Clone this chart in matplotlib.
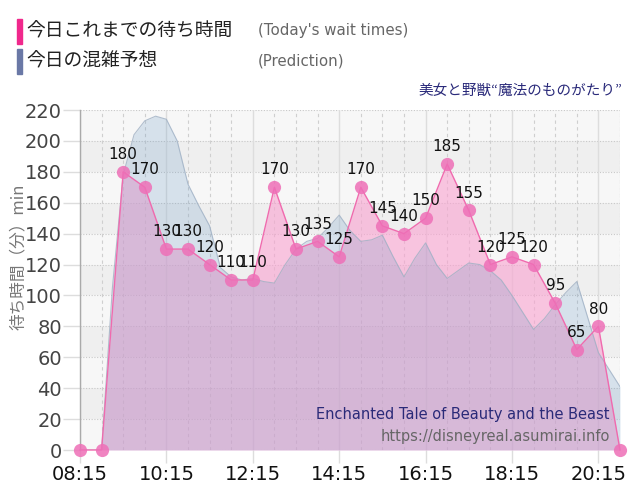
import matplotlib
matplotlib.use("Agg")
import matplotlib.pyplot as plt
import numpy as np

# ---- data ----
start_label = "08:15"
actual_step_min = 30
actual_values = [0, 0, 180, 170, 130, 130, 120, 110, 110, 170, 130, 135, 125,
                 170, 145, 140, 150, 185, 155, 120, 125, 120, 95, 65, 80, 0]
pred_step_min = 15
pred_values = [0, 0, 0, 105, 178, 204, 213, 216, 214, 200, 172, 158, 145, 118,
               112, 110, 111, 109, 108, 120, 130, 135, 137, 144, 152, 142, 135,
               136, 139, 125, 112, 124, 134, 120, 111, 116, 121, 120, 116, 110,
               100, 89, 78, 85, 94, 102, 109, 86, 63, 52, 41]
tick_labels = ["08:15", "10:15", "12:15", "14:15", "16:15", "18:15", "20:15"]
y_ticks = [0, 20, 40, 60, 80, 100, 120, 140, 160, 180, 200, 220]

legend_jp = ["今日これまでの待ち時間", "今日の混雑予想"]
legend_en = ["(Today's wait times)", "(Prediction)"]
title_jp = "美女と野獣“魔法のものがたり”"
title_en = "Enchanted Tale of Beauty and the Beast"
site = "https://disneyreal.asumirai.info"
ylabel = "待ち時間（分）min"

JP = ['Noto Sans CJK JP', 'DejaVu Sans']

xa = np.arange(len(actual_values)) * actual_step_min
xp = np.arange(len(pred_values)) * pred_step_min
ya = np.array(actual_values, dtype=float)
yp = np.array(pred_values, dtype=float)

fig = plt.figure(figsize=(6.4, 5.0), dpi=100)
ax = fig.add_axes([80/640, 50/500, 540/640, 340/500])
ax.set_xlim(xa[0], xa[-1])
ax.set_ylim(0, 220)

# background bands
for i in range(11):
    c = "#f7f7f7" if i % 2 == 0 else "#efefef"
    ax.axhspan(i*20, i*20+20, color=c, zorder=0, lw=0)

# grid
for y in y_ticks:
    ax.axhline(y, color="#c8c8c8", lw=0.8, ls=(0, (1, 1.5)), zorder=1)
for x in np.arange(0, xa[-1]+1, 30):
    if x % 120 == 0:
        ax.axvline(x, color="#dddddd", lw=1.0, zorder=1)
    else:
        ax.axvline(x, color="#cfcfcf", lw=0.8, ls=(0, (3, 3)), zorder=1)
ax.axvline(xa[-1], color="#cfcfcf", lw=0.8, ls=(0, (1, 1.5)), zorder=1)

# actual fill
ax.fill_between(xa, 0, ya, color="#faa2d0", alpha=0.6, lw=0, zorder=2)
# prediction fill on top
ax.fill_between(xp, 0, yp, color="#6496c3", alpha=0.22, lw=0, zorder=3)
ax.plot(xp, yp, color="#9fb0c4", lw=0.8, alpha=0.8, zorder=3)

# actual line and markers
ax.plot(xa, ya, color="#f06aae", lw=1.0, zorder=4, clip_on=False)
ax.plot(xa, ya, ls="none", marker="o", ms=9.5, mfc="#ee6fb7", mec="none",
        alpha=0.85, zorder=5, clip_on=False)

for x, y in zip(xa, ya):
    if y > 0:
        ax.annotate(f"{int(y)}", (x, y), xytext=(0, 12.5), textcoords="offset points",
                    ha="center", va="center", fontsize=11, color="#111111",
                    family="DejaVu Sans", zorder=6)

# axes styling
for s in ["top", "right", "bottom"]:
    ax.spines[s].set_visible(False)
ax.spines["left"].set_color("#aaaaaa")
ax.spines["left"].set_linewidth(1.0)
ax.set_yticks(y_ticks)
ax.set_yticklabels([str(v) for v in y_ticks])
ax.set_xticks(np.arange(0, 721, 120))
ax.set_xticklabels(tick_labels)
ax.tick_params(axis="y", length=12, width=1, color="#dddddd", pad=1,
               labelsize=14, labelcolor="#444444")
ax.tick_params(axis="x", length=9, width=1, color="#dddddd", pad=2,
               labelsize=14, labelcolor="#111111")

fig.text(18/640, 1 - 257/500, ylabel, rotation=90, ha="center", va="center",
         fontsize=12, color="#777777", family=JP)

# legend
fig.patches.append(matplotlib.patches.Rectangle((17/640, 1-44/500), 5/640, 25/500,
                   transform=fig.transFigure, color="#f0288c", figure=fig))
fig.patches.append(matplotlib.patches.Rectangle((17/640, 1-74/500), 5/640, 25/500,
                   transform=fig.transFigure, color="#6a78a6", figure=fig))
fig.text(26/640, 1-31/500, legend_jp[0], ha="left", va="center", fontsize=13.5,
         color="#222222", family=JP)
fig.text(26/640, 1-61/500, legend_jp[1], ha="left", va="center", fontsize=13.5,
         color="#222222", family=JP)
fig.text(258/640, 1-31/500, legend_en[0], ha="left", va="center", fontsize=10.8,
         color="#666666", family="DejaVu Sans")
fig.text(258/640, 1-61/500, legend_en[1], ha="left", va="center", fontsize=10.8,
         color="#666666", family="DejaVu Sans")
fig.text(622/640, 1-91/500, title_jp, ha="right", va="center", fontsize=10.5,
         color="#2a2a7a", family=JP)
fig.text(610/640, 1-415/500, title_en, ha="right", va="center", fontsize=10.5,
         color="#2a2a78", family="DejaVu Sans")
fig.text(610/640, 1-436/500, site, ha="right", va="center", fontsize=10.5,
         color="#666666", family="DejaVu Sans")

fig.savefig("out.png", dpi=100)
